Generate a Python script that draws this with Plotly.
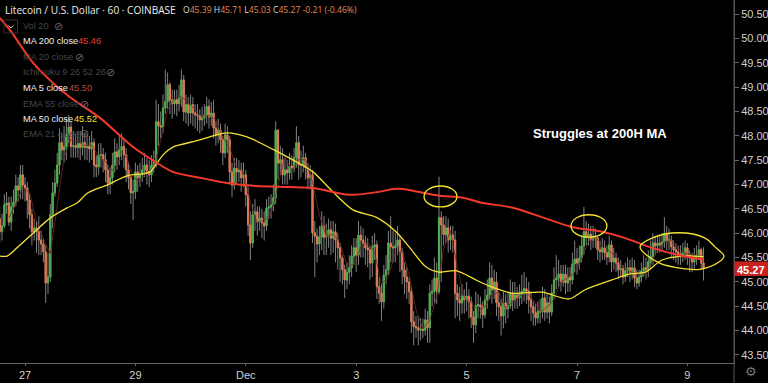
import plotly.graph_objects as go

# Hourly candles; hour 0 is 27 Nov 00:00
first_hour = -11
first_open = 46.30
closes = [
46.03,46.15,46.58,46.62,46.23,46.54,46.64,46.97,46.89,47.20,
46.99,46.93,46.68,46.38,46.03,46.11,46.03,45.86,45.78,45.62,
44.98,45.10,46.38,46.83,47.03,47.40,47.86,47.71,47.78,48.02,
48.18,47.78,47.80,47.76,47.84,47.76,47.86,47.76,47.80,47.73,
47.86,47.40,47.36,47.61,47.61,47.51,47.30,47.03,47.14,47.40,
47.67,47.57,47.71,47.78,47.61,47.30,47.14,46.83,46.85,47.26,
47.14,47.20,47.30,47.40,47.26,47.20,47.40,47.47,48.29,48.21,
48.18,48.57,48.70,49.05,48.74,48.66,48.74,48.66,48.78,49.15,
48.49,48.64,48.47,48.64,48.47,48.43,48.41,48.33,48.37,48.43,
48.60,48.39,48.47,48.16,48.02,48.12,47.92,47.65,48.02,47.92,
47.26,46.99,47.34,47.26,47.30,47.14,47.20,46.79,46.17,45.80,
46.38,46.44,46.23,46.31,46.21,46.15,46.52,46.54,46.58,46.73,
48.12,47.44,47.51,47.20,47.30,47.24,47.38,47.34,47.55,47.86,
47.40,47.40,47.55,47.34,47.14,47.20,46.01,45.94,45.78,45.92,
46.15,45.92,45.96,46.07,45.90,46.03,45.86,45.70,45.49,45.25,
45.04,45.20,45.29,45.53,45.70,45.55,45.96,45.86,45.80,45.70,
45.66,45.39,45.72,45.76,44.90,44.77,44.59,45.14,45.25,45.80,
45.72,45.70,45.74,45.86,45.62,45.25,45.10,45.00,44.80,44.18,
44.08,44.06,44.01,44.03,44.01,44.22,44.06,44.77,44.81,45.08,
44.80,46.32,46.17,45.97,46.11,45.86,45.96,45.86,44.77,44.63,
44.57,44.71,44.63,44.71,44.59,44.28,44.12,44.51,44.53,44.49,
44.32,44.63,44.73,45.08,44.84,45.00,44.57,44.49,44.30,44.57,
44.45,44.51,44.77,44.63,44.73,44.67,44.75,44.81,44.86,44.81,
44.63,44.49,44.37,44.26,44.40,44.38,44.67,44.38,44.57,44.38,
44.77,45.04,45.08,45.16,45.00,45.16,44.98,45.10,45.04,45.37,
45.47,45.39,45.49,45.74,46.03,45.92,45.98,45.86,45.94,45.90,
45.66,45.62,45.70,45.60,45.51,45.76,45.41,45.49,45.39,45.25,
45.27,45.10,45.23,45.29,45.20,45.29,45.08,44.98,45.10,45.23,
45.29,45.25,45.41,45.53,45.80,45.74,45.80,45.76,45.82,46.00,
45.84,45.86,45.72,45.66,45.62,45.58,45.53,45.59,45.70,45.55,
45.49,45.41,45.51,45.55,45.66,45.39,45.27]
highs = [
46.55,46.40,46.80,46.85,46.75,46.75,46.90,47.20,47.15,47.40,
47.40,47.15,47.05,46.80,46.50,46.30,46.25,46.35,46.05,45.90,
45.75,45.60,46.60,47.05,47.30,47.65,48.15,48.05,48.20,48.35,
48.43,48.30,48.10,48.05,48.10,48.10,48.20,48.05,48.05,48.00,
48.10,47.95,47.60,47.85,47.85,47.75,47.65,47.40,47.35,47.65,
47.95,47.85,48.00,48.05,47.95,47.75,47.45,47.20,47.10,47.45,
47.40,47.45,47.55,47.65,47.55,47.50,47.60,47.70,48.74,48.65,
48.50,48.85,49.36,49.30,49.10,48.95,48.95,48.95,49.05,49.36,
49.25,48.85,48.80,48.85,48.80,48.65,48.65,48.55,48.60,48.65,
48.80,48.75,48.70,48.74,48.30,48.35,48.25,48.00,48.25,48.20,
48.00,47.45,47.55,47.55,47.50,47.45,47.45,47.30,46.95,46.45,
46.60,46.70,46.55,46.55,46.50,46.45,46.70,46.75,46.80,47.00,
48.30,48.10,47.80,47.75,47.55,47.50,47.65,47.60,47.75,48.20,
48.00,47.70,47.80,47.65,47.45,47.40,47.30,46.25,46.10,46.15,
46.45,46.35,46.20,46.30,46.25,46.25,46.20,46.00,45.80,45.55,
45.35,45.40,45.55,45.75,45.90,45.90,46.25,46.15,46.10,45.95,
45.90,45.75,45.95,46.00,45.85,45.10,44.95,45.35,45.55,46.05,
46.35,46.05,46.00,46.15,45.95,45.70,45.40,45.30,45.10,44.90,
44.40,44.30,44.30,44.25,44.25,44.45,44.40,44.95,45.05,45.50,
45.40,47.16,46.45,46.35,46.35,46.30,46.15,46.15,46.05,44.95,
44.90,44.95,44.85,45.00,44.85,44.70,44.40,44.80,44.75,44.70,
44.60,44.85,45.05,45.40,45.35,45.25,45.20,44.80,44.65,44.80,
44.75,44.80,45.05,45.00,45.00,44.90,44.95,45.15,45.20,45.10,
45.00,44.80,44.60,44.55,44.60,44.65,44.90,44.85,44.75,44.70,
44.95,45.30,45.55,45.45,45.35,45.35,45.35,45.30,45.30,45.60,
45.85,45.70,45.75,45.95,46.54,46.25,46.20,46.15,46.15,46.10,
45.95,45.85,45.90,45.85,45.75,45.95,45.85,45.70,45.60,45.50,
45.45,45.35,45.40,45.50,45.45,45.50,45.45,45.25,45.25,45.40,
45.55,45.50,45.65,45.85,46.00,45.95,45.95,45.95,46.00,46.33,
46.15,46.10,45.95,45.85,45.80,45.75,45.75,45.80,45.85,45.80,
45.65,45.60,45.70,45.75,45.85,45.70,45.71]
lows = [
45.80,45.85,46.10,46.40,46.15,46.05,46.40,46.55,46.65,46.70,
46.70,46.65,46.30,46.10,45.75,45.85,45.60,45.55,45.55,45.40,
44.57,44.75,45.00,46.10,46.75,46.95,47.20,47.50,47.45,47.50,
47.85,47.55,47.55,47.55,47.55,47.50,47.60,47.50,47.50,47.45,
47.50,47.15,47.15,47.20,47.35,47.25,47.05,46.80,46.80,47.00,
47.25,47.30,47.40,47.50,47.35,47.05,46.90,46.60,46.27,46.70,
46.85,46.95,47.05,47.15,47.00,46.95,47.05,47.25,47.35,47.80,
47.95,48.05,48.45,48.55,48.45,48.35,48.45,48.40,48.50,48.60,
48.30,48.25,48.20,48.25,48.20,48.15,48.10,48.05,48.10,48.20,
48.25,48.15,48.20,47.95,47.80,47.85,47.65,47.40,47.55,47.65,
47.00,46.75,46.90,47.00,47.05,46.85,46.95,46.55,45.95,45.45,
45.70,46.05,45.95,46.05,45.90,45.85,46.05,46.30,46.30,46.45,
46.60,47.10,47.20,47.00,47.00,47.00,47.10,47.10,47.25,47.35,
47.10,47.15,47.25,47.10,46.90,46.90,45.80,45.10,45.40,45.55,
45.65,45.55,45.55,45.70,45.55,45.60,45.40,45.25,45.00,44.95,
44.67,44.85,44.95,45.10,45.35,45.20,45.35,45.50,45.50,45.35,
45.30,45.05,45.10,45.45,44.65,44.55,44.20,44.45,44.95,45.15,
45.40,45.40,45.40,45.55,45.20,44.95,44.75,44.65,44.55,43.95,
43.70,43.85,43.70,43.80,43.85,43.90,43.75,43.75,44.50,44.55,
44.55,44.75,45.00,45.75,45.80,45.60,45.65,45.60,44.25,44.30,
44.20,44.35,44.35,44.40,44.25,44.05,43.75,43.95,44.25,44.25,
44.05,44.25,44.45,44.65,44.55,44.65,44.30,44.20,43.90,44.05,
44.15,44.25,44.45,44.40,44.45,44.45,44.50,44.55,44.60,44.55,
44.35,44.20,44.10,44.10,44.15,44.15,44.25,44.20,44.25,44.15,
44.30,44.65,44.85,44.90,44.80,44.90,44.75,44.80,44.80,44.95,
45.20,45.15,45.25,45.40,45.55,45.75,45.75,45.65,45.70,45.70,
45.45,45.40,45.45,45.45,45.35,45.40,45.20,45.25,45.20,45.05,
45.10,44.95,45.00,45.10,45.00,45.05,44.90,44.85,44.90,45.00,
45.10,45.05,45.10,45.30,45.35,45.55,45.60,45.60,45.65,45.70,
45.65,45.65,45.50,45.45,45.40,45.35,45.35,45.40,45.45,45.35,
45.20,45.20,45.25,45.35,45.45,45.25,45.03]

ma200_hours = [-10.9,-5.7,3.5,18.3,32.6,47,56.5,64.3,76,87.8,100.4,114.8,125.2,140.9,153.9,160,164.3,173,180,190.4,199.1,211.7,226,237.8,250.9,260.9,272.6,284.3,295]
ma200_values = [50.42,50.12,49.50,48.84,48.37,47.77,47.47,47.26,47.14,47.03,46.97,46.95,46.93,46.79,46.85,46.91,46.91,46.83,46.77,46.73,46.62,46.53,46.31,46.13,46.03,45.90,45.70,45.55,45.46]
ma50_hours = [-10.9,-7.8,-3.5,3.5,10.9,18.3,22.6,27.4,35.7,44.3,51.3,54.3,57.4,60,64.3,74.8,80.4,87.8,96.5,100.4,109.1,117.8,125.2,133.9,142.6,152.6,161.3,167,174.3,180,187.4,196.1,201.7,211.7,224.8,236.5,243.5,255.2,262.6,269.6,277,285.7,295]
ma50_values = [45.53,45.53,45.70,46.00,46.31,46.52,46.62,46.83,46.99,47.18,47.22,47.26,47.44,47.61,47.77,47.90,47.98,48.06,47.98,47.90,47.69,47.47,47.26,46.85,46.48,46.33,46.03,45.72,45.31,45.20,45.23,45.04,44.92,44.77,44.79,44.65,44.84,45.04,45.16,45.20,45.45,45.53,45.52]
ma5_values = [46.32,46.60,46.94,46.84,46.25,45.88,45.58,46.55,47.56,47.93,47.89,47.80,47.80,47.59,47.48,47.28,47.50,47.59,47.15,47.06,47.26,47.35,47.91,48.54,48.78,48.80,48.71,48.53,48.40,48.42,48.33,47.97,47.75,47.35,47.25,46.62,46.21,46.27,46.40,46.98,47.57,47.29,47.51,47.51,47.05,46.37,45.95,45.98,45.80,45.34,45.35,45.72,45.80,45.61,44.95,45.11,45.60,45.63,45.15,44.42,44.04,44.22,44.70,45.67,46.05,45.30,44.67,44.58,44.41,44.49,44.72,44.80,44.46,44.59,44.71,44.78,44.63,44.38,44.48,44.63,45.01,45.08,45.19,45.49,45.83,45.92,45.76,45.64,45.51,45.30,45.22,45.17,45.14,45.34,45.66,45.83,45.85,45.69,45.60,45.55,45.55]
ma5_hours = list(range(-7, 294, 3))

tick_hours = [0, 48, 96, 144, 192, 240, 288]
tick_labels = ["27", "29", "Dec", "3", "5", "7", "9"]
price_ticks = [43.5, 44.0, 44.5, 45.0, 45.5, 46.0, 46.5, 47.0, 47.5, 48.0, 48.5, 49.0, 49.5, 50.0, 50.5]
last_price = 45.27

ring1 = dict(x0=173.5, x1=187.8, y0=46.54, y1=46.97)
ring2 = dict(x0=237.4, x1=253.0, y0=45.92, y1=46.38)
ring3_hours = [267.4, 272.6, 284.3, 295.7, 300.0, 303.9, 301.7, 293.5, 287.0, 275.7, 267.4]
ring3_prices = [45.72, 45.90, 46.01, 45.90, 45.72, 45.53, 45.41, 45.26, 45.27, 45.39, 45.72]

assert len(closes) == len(highs) == len(lows)
assert len(ma5_hours) == len(ma5_values)

GREEN, ORANGE, WICK = "#4cb04a", "#e27850", "#808080"
YELLOW, RED, DARKRED = "#f2e233", "#f2392b", "#6e2c24"

hours = list(range(first_hour, first_hour + len(closes)))
opens = [first_open] + closes[:-1]
body_top = [max(o, c) for o, c in zip(opens, closes)]
body_bot = [min(o, c) for o, c in zip(opens, closes)]

fig = go.Figure()
fig.add_trace(go.Candlestick(x=hours, open=opens, high=highs, low=lows, close=closes,
    increasing=dict(line=dict(color=WICK, width=1), fillcolor="rgba(0,0,0,0)"),
    decreasing=dict(line=dict(color=WICK, width=1), fillcolor="rgba(0,0,0,0)"), showlegend=False))
fig.add_trace(go.Candlestick(x=hours, open=opens, high=body_top, low=body_bot, close=closes,
    increasing=dict(line=dict(color=GREEN, width=1), fillcolor=GREEN),
    decreasing=dict(line=dict(color=ORANGE, width=1), fillcolor=ORANGE), showlegend=False))
fig.add_trace(go.Scatter(x=ma5_hours + [295], y=ma5_values + [45.50], mode="lines",
    line=dict(color=DARKRED, width=0.8), showlegend=False))
fig.add_trace(go.Scatter(x=ma50_hours, y=ma50_values, mode="lines",
    line=dict(color=YELLOW, width=1.3, shape="spline", smoothing=0.8), showlegend=False))
fig.add_trace(go.Scatter(x=ma200_hours, y=ma200_values, mode="lines",
    line=dict(color=RED, width=2, shape="spline", smoothing=0.8), showlegend=False))
fig.add_trace(go.Scatter(x=ring3_hours, y=ring3_prices, mode="lines",
    line=dict(color=YELLOW, width=1.3, shape="spline", smoothing=1), showlegend=False))

W, H = 734.0, 363.0
px = lambda v: v / W
py = lambda v: 1 - v / H
FONT = "Liberation Sans"
ann = []
def label(x, y, text, color="#ffffff", size=9.2, family=FONT, anchor="left"):
    ann.append(dict(xref="paper", yref="paper", x=px(x), y=py(y), text=text, showarrow=False,
                    xanchor=anchor, yanchor="middle", align="left", borderpad=0,
                    font=dict(family=family, size=size, color=color)))

O = "#e58a5c"
label(4, 10, "Litecoin / U.S. Dollar · 60 · COINBASE", "#eeeeee", 10.1, "Open Sans")
label(182, 10, f"<span style='color:#ddd'>O</span>45.39 <span style='color:#ddd'>H</span>45.71 "
      f"<span style='color:#ddd'>L</span>45.03 <span style='color:#ddd'>C</span>45.27 -0.21 (-0.46%)", O, 8.6, "Open Sans")
DIM = "#454545"
label(22, 26, "Vol 20", DIM)
label(22, 41, "MA 200 close", "#f0f0f0")
label(77, 41, "45.46", "#e0402f")
label(22, 57, "MA 20 close", DIM)
label(22, 72, "Ichimoku 9 26 52 26", DIM)
label(22, 88, "MA 5 close", "#f0f0f0")
label(68, 88, "45.50", "#b8483c")
label(22, 104, "EMA 55 close", DIM)
label(22, 119, "MA 50 close", "#f0f0f0")
label(73, 119, "45.52", YELLOW)
label(22, 134, "EMA 21 close", DIM)
for x, y in [(58, 26), (79, 57), (110, 72), (84, 104), (84, 134)]:
    label(x, y, "⊘", "#666666", 11, "DejaVu Sans", "center")
label(599.5, 133, "<b>Struggles at 200H MA</b>", "#ffffff", 13, "Liberation Sans", "center")
label(751, 269.5, "<b>45.27</b>", "#ffffff", 11, "Liberation Sans", "center")
label(751, 372, "⚙", "#777777", 13, "DejaVu Sans", "center")

shapes = [
    dict(type="circle", xref="x", yref="y", line=dict(color=YELLOW, width=1.3), **ring1),
    dict(type="circle", xref="x", yref="y", line=dict(color=YELLOW, width=1.3), **ring2),
    dict(type="rect", xref="paper", yref="y", x0=1, x1=768 / W, y0=last_price - 0.15, y1=last_price + 0.15,
         fillcolor="#c9211e", line=dict(width=0)),
    dict(type="line", xref="paper", yref="paper", x0=1, x1=1, y0=py(383), y1=1,
         line=dict(color="#555555", width=1)),
    dict(type="rect", xref="paper", yref="paper", x0=px(4), x1=px(17.5), y0=py(33), y1=py(20),
         line=dict(color="#333333", width=1)),
    dict(type="path", xref="paper", yref="paper",
         path=f"M {px(8.5)} {py(25.5)} L {px(11)} {py(28)} L {px(13.5)} {py(25.5)}",
         line=dict(color="#cccccc", width=1)),
]

fig.update_layout(
    width=768, height=383, margin=dict(l=0, r=34, t=0, b=20), autosize=False,
    paper_bgcolor="#000000", plot_bgcolor="#000000", showlegend=False,
    annotations=ann, shapes=shapes, dragmode=False,
    xaxis=dict(range=[-10.87, 308.26], rangeslider=dict(visible=False), showgrid=False, zeroline=False,
               tickmode="array", tickvals=tick_hours, ticktext=tick_labels, ticks="outside", ticklen=2,
               tickcolor="#666666", showline=True, linecolor="#666666", linewidth=1,
               tickfont=dict(family="Liberation Sans", size=11, color="#d0d0d0")),
    yaxis=dict(range=[43.335, 50.79], side="right", showgrid=False, zeroline=False,
               tickmode="array", tickvals=price_ticks, ticktext=[f"{p:.2f}" for p in price_ticks],
               ticks="outside", ticklen=4, tickcolor="#666666", showline=True, linecolor="#555555", linewidth=1,
               tickfont=dict(family="Liberation Sans", size=11, color="#d0d0d0")),
)
fig.write_html("out.html", config=dict(displayModeBar=False),
               post_script="document.body.style.margin='0';document.documentElement.style.background='#000';document.documentElement.style.overflow='hidden';")
